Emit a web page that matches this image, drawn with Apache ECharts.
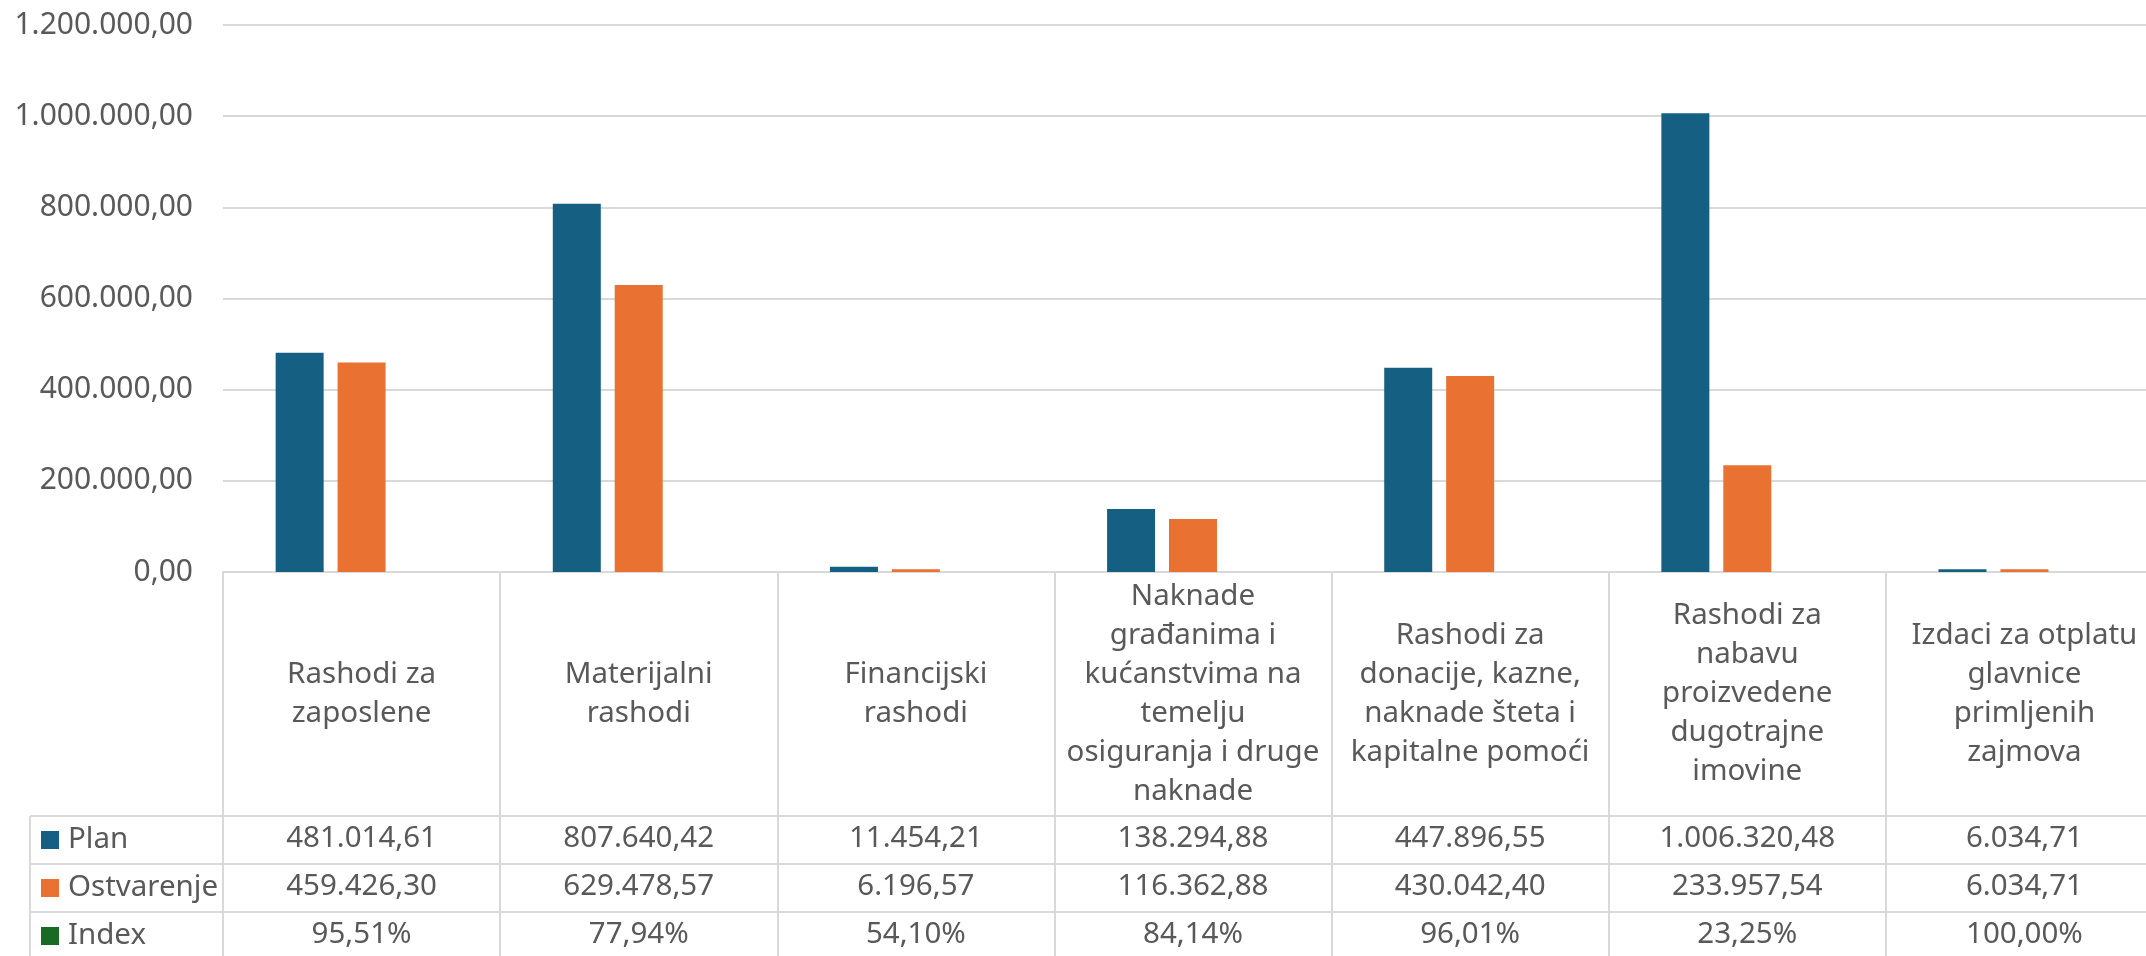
<!DOCTYPE html>
<html>
<head>
<meta charset="utf-8">
<script src="https://cdn.jsdelivr.net/npm/echarts@6/dist/echarts.min.js"></script>
<style>
html,body{margin:0;padding:0;background:#fff;}
#chart{width:2146px;height:956px;}
</style>
</head>
<body>
<div id="chart"></div>
<script>
// ---- data ----
const categories = [
  'Rashodi za\nzaposlene',
  'Materijalni\nrashodi',
  'Financijski\nrashodi',
  'Naknade\ngrađanima i\nkućanstvima na\ntemelju\nosiguranja i druge\nnaknade',
  'Rashodi za\ndonacije, kazne,\nnaknade šteta i\nkapitalne pomoći',
  'Rashodi za\nnabavu\nproizvedene\ndugotrajne\nimovine',
  'Izdaci za otplatu\nglavnice\nprimljenih\nzajmova'
];
const seriesNames = ['Plan', 'Ostvarenje', 'Index'];
const planValues = [481014.61, 807640.42, 11454.21, 138294.88, 447896.55, 1006320.48, 6034.71];
const ostvarenjeValues = [459426.30, 629478.57, 6196.57, 116362.88, 430042.40, 233957.54, 6034.71];
const indexValues = [95.51, 77.94, 54.10, 84.14, 96.01, 23.25, 100.00]; // percent
const yMin = 0, yMax = 1200000, yInterval = 200000;

// ---- styling / layout ----
const colors = ['#156082', '#E97132', '#196B24'];
const textColor = '#595959';
const lineColor = '#d9d9d9';
const fontFamily = '"Noto Sans", sans-serif';
const fontSize = 29.5;
const W = 2146, H = 956;
const gridLeft = 223, gridTop = 25, gridWidth = 1940, gridBottom = 384;
const headerH = 244, rowH = 48, tableLeft = 30;

function fmtNum(v) {
  const parts = v.toFixed(2).split('.');
  return parts[0].replace(/\B(?=(\d{3})+(?!\d))/g, '.') + ',' + parts[1];
}
function fmtPct(v) {
  return v.toFixed(2).replace('.', ',') + '%';
}

const zeroY = H - gridBottom;
const rowTop = zeroY + headerH;

function rowAxis(margin, fmt) {
  return {
    type: 'category', data: categories, gridIndex: 0, position: 'bottom', offset: 0,
    axisLine: {show: false}, axisTick: {show: false}, splitLine: {show: false},
    axisLabel: {
      interval: 0, margin: margin, verticalAlign: 'middle', align: 'center',
      fontSize: fontSize, color: textColor, fontFamily: fontFamily, formatter: fmt
    }
  };
}

const chart = echarts.init(document.getElementById('chart'), null, {renderer: 'canvas'});

const tableLines = [];
for (let r = 0; r < 3; r++) {
  tableLines.push({
    type: 'line', silent: true,
    shape: {x1: tableLeft, y1: rowTop + r * rowH, x2: W, y2: rowTop + r * rowH},
    style: {stroke: lineColor, lineWidth: 2}
  });
}
tableLines.push({
  type: 'line', silent: true,
  shape: {x1: tableLeft, y1: rowTop, x2: tableLeft, y2: H},
  style: {stroke: lineColor, lineWidth: 2}
});

const option = {
  animation: false,
  backgroundColor: '#fff',
  textStyle: {fontFamily: fontFamily},
  grid: {left: gridLeft, top: gridTop, width: gridWidth, bottom: gridBottom, containLabel: false, outerBoundsMode: 'none'},
  legend: {
    orient: 'vertical', left: 41, top: rowTop + 9, padding: 0, height: 140,
    itemWidth: 18, itemHeight: 18, itemGap: 18, icon: 'rect',
    selectedMode: false,
    data: seriesNames,
    textStyle: {fontSize: fontSize, color: textColor, fontFamily: fontFamily, padding: [0, 0, 0, 4]}
  },
  xAxis: [
    {
      type: 'category', data: categories, gridIndex: 0, position: 'bottom', boundaryGap: true,
      axisLine: {show: true, lineStyle: {color: lineColor, width: 2}},
      axisTick: {show: true, length: gridBottom, lineStyle: {color: lineColor, width: 2}},
      splitLine: {show: false},
      axisLabel: {
        interval: 0, margin: headerH / 2, verticalAlign: 'middle', align: 'center',
        fontSize: fontSize, lineHeight: 39, color: textColor, fontFamily: fontFamily
      }
    },
    rowAxis(headerH + rowH * 0.5 - 1, (v, i) => fmtNum(planValues[i])),
    rowAxis(headerH + rowH * 1.5 - 1, (v, i) => fmtNum(ostvarenjeValues[i])),
    rowAxis(headerH + rowH * 2.5 - 1, (v, i) => fmtPct(indexValues[i]))
  ],
  yAxis: {
    type: 'value', min: yMin, max: yMax, interval: yInterval,
    axisLine: {show: false}, axisTick: {show: false},
    splitLine: {show: true, lineStyle: {color: lineColor, width: 2}},
    axisLabel: {fontSize: 30, color: textColor, fontFamily: fontFamily, margin: 30, formatter: v => fmtNum(v)}
  },
  series: [
    {name: seriesNames[0], type: 'bar', data: planValues, barWidth: 48, barGap: '29%', itemStyle: {color: colors[0]}},
    {name: seriesNames[1], type: 'bar', data: ostvarenjeValues, barWidth: 48, barGap: '29%', itemStyle: {color: colors[1]}},
    {name: seriesNames[2], type: 'bar', data: indexValues.map(v => v / 100), barWidth: 48, barGap: '29%', itemStyle: {color: colors[2]}}
  ],
  graphic: tableLines
};
chart.setOption(option);
</script>
</body>
</html>
